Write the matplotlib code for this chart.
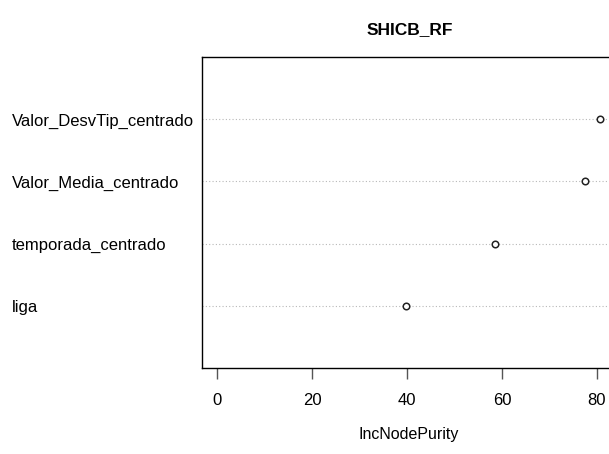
import matplotlib.pyplot as plt
import numpy as np

plt.rcParams['font.family'] = ['Liberation Sans', 'DejaVu Sans']

# variable importance (bottom to top)
variables = ["liga", "temporada_centrado", "Valor_Media_centrado", "Valor_DesvTip_centrado"]
inc_node_purity = [39.7, 58.6, 77.5, 80.6]
xticks = [0, 20, 40, 60, 80]

W, H = 609, 454
fig = plt.figure(figsize=(W / 100, H / 100), dpi=100)
ax = fig.add_axes([202 / W, 1 - 368 / H, 413 / W, 311 / H])

ypos = np.arange(1, len(variables) + 1)
for y in ypos:
    ax.axhline(y, color='#b8b8b8', lw=0.8, ls=(0, (1, 2)), zorder=1)
ax.scatter(inc_node_purity, ypos, s=22, facecolors='white', edgecolors='#222222',
           linewidths=1.1, zorder=3)

ax.set_xlim(-3.2, 83.8)
ax.set_ylim(0, len(variables) + 1)
ax.set_yticks([])
ax.set_xticks(xticks)
ax.set_xticklabels([str(t) for t in xticks], fontsize=12)
ax.tick_params(axis='x', direction='out', length=8, width=1, color='#555555', pad=10)
for s in ax.spines.values():
    s.set_linewidth(1)
    s.set_color('black')

for name, y in zip(variables, ypos):
    fig.text(12 / W, (ax.transData.transform((0, y))[1] - 2) / H, name, ha='left',
             va='center', fontsize=12)

ax.set_xlabel("IncNodePurity", fontsize=11.5, labelpad=14)
fig.text(410 / W, 1 - 30 / H, "SHICB_RF", ha='center', va='center',
         fontsize=12.5, fontweight='bold')

fig.savefig("out.png", dpi=100)
